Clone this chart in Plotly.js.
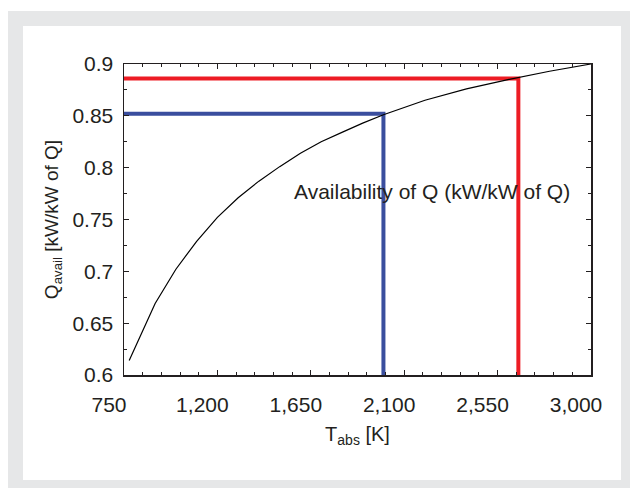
<!DOCTYPE html>
<html>
<head>
<meta charset="utf-8">
<script src="https://cdn.plot.ly/plotly-3.0.1.min.js"></script>
<style>
  html, body { margin: 0; padding: 0; width: 630px; height: 488px; background: #ffffff; overflow: hidden; }
  #frame { position: absolute; left: 8px; top: 11px; width: 630px; height: 490px; background: #e6e7e8; }
  #panel { position: absolute; left: 23px; top: 26px; width: 598px; height: 454px; background: #ffffff; }
  #chart { position: absolute; left: 0; top: 0; width: 630px; height: 488px; }
</style>
</head>
<body>
<div id="frame"></div>
<div id="panel"></div>
<div id="chart"></div>
<script>
// Availability curve
const tempK = [775, 900, 1000, 1100, 1200, 1300, 1400, 1500, 1600, 1700, 1800, 1900, 2000, 2200, 2400, 2600, 2800, 3000];
const availability = [0.614, 0.669, 0.702, 0.729, 0.752, 0.771, 0.787, 0.801, 0.814, 0.825, 0.834, 0.843, 0.851, 0.865, 0.876, 0.885, 0.893, 0.900];

// Highlighted operating points
const blueT = 2000, blueQ = 0.852;
const redT = 2650, redQ = 0.886;

// Axis ranges and ticks
const xMin = 750, xMax = 3000;
const yMin = 0.6, yMax = 0.9;
const xTickVals = [750, 1200, 1650, 2100, 2550, 3000];
const xTickText = ['750', '1,200', '1,650', '2,100', '2,550', '3,000'];
const yTickVals = [0.6, 0.65, 0.7, 0.75, 0.8, 0.85, 0.9];
const yTickText = ['0.6', '0.65', '0.7', '0.75', '0.8', '0.85', '0.9'];

const ink = '#231f20';
const fontFam = 'Liberation Sans, Arial, Helvetica, sans-serif';

const traces = [
  { x: [xMin, redT, redT], y: [redQ, redQ, yMin], mode: 'lines',
    line: { color: '#ed1c24', width: 4 }, hoverinfo: 'skip', showlegend: false },
  { x: [xMin, blueT, blueT], y: [blueQ, blueQ, yMin], mode: 'lines',
    line: { color: '#3a4e9e', width: 4 }, hoverinfo: 'skip', showlegend: false },
  { x: tempK, y: availability, mode: 'lines',
    line: { color: '#000000', width: 1.2 }, showlegend: false }
];

const layout = {
  width: 630, height: 488,
  margin: { l: 124, r: 39, t: 64, b: 113 },
  paper_bgcolor: 'rgba(0,0,0,0)',
  plot_bgcolor: 'rgba(0,0,0,0)',
  font: { family: fontFam, color: ink, size: 21 },
  xaxis: {
    range: [xMin, xMax], tickvals: xTickVals, ticktext: xTickText,
    ticks: 'inside', ticklen: 5, tickwidth: 1, tickcolor: ink,
    minor: { dtick: 90, tick0: 750, ticks: 'inside', ticklen: 3, tickcolor: ink, showgrid: false },
    showline: true, linecolor: ink, linewidth: 1.5, mirror: 'allticks',
    showgrid: false, zeroline: false, ticklabelshift: -15, ticklabelstandoff: 10,
    tickfont: { size: 21, color: ink },
    title: { text: 'T<sub>abs</sub> [K]', font: { size: 20, color: ink }, standoff: 12 }
  },
  yaxis: {
    range: [yMin, yMax], tickvals: yTickVals, ticktext: yTickText,
    ticks: 'inside', ticklen: 5, tickwidth: 1, tickcolor: ink,
    minor: { dtick: 0.025, tick0: 0.6, ticks: 'inside', ticklen: 3, tickcolor: ink, showgrid: false },
    showline: true, linecolor: ink, linewidth: 1.5, mirror: 'allticks',
    showgrid: false, zeroline: false, ticklabelstandoff: 5,
    tickfont: { size: 21, color: ink },
    title: { text: 'Q<sub>avail</sub> [kW/kW of Q]', font: { size: 19, color: ink }, standoff: 9 }
  },
  annotations: [{
    x: 2234, y: 0.777, xref: 'x', yref: 'y', text: 'Availability of Q (kW/kW of Q)',
    showarrow: false, xanchor: 'center', yanchor: 'middle',
    font: { size: 21, color: ink, family: fontFam }
  }]
};

Plotly.newPlot('chart', traces, layout, { displayModeBar: false, staticPlot: true });
</script>
</body>
</html>
